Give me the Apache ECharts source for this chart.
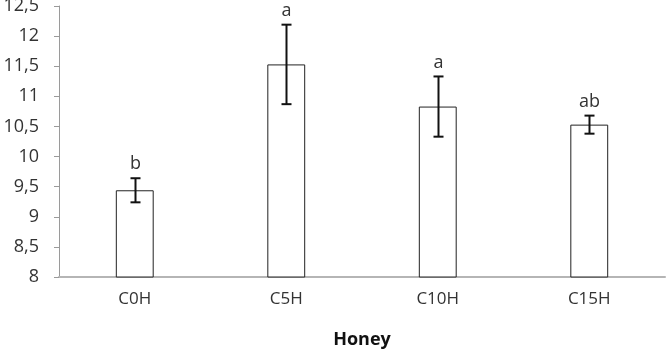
<!DOCTYPE html>
<html>
<head>
<meta charset="utf-8">
<script src="https://cdn.jsdelivr.net/npm/echarts@6/dist/echarts.min.js"></script>
<style>
  html, body { margin: 0; padding: 0; background: #fff; }
  #chart { width: 666px; height: 350px; }
</style>
</head>
<body>
<div id="chart"></div>
<script>
var categories = ['C0H', 'C5H', 'C10H', 'C15H'];
var means = [9.44, 11.53, 10.83, 10.53];
var errors = [0.2, 0.66, 0.5, 0.15];
var letters = ['b', 'a', 'a', 'ab'];

var errData = categories.map(function (c, i) {
    return [i, means[i] - errors[i], means[i] + errors[i], letters[i]];
});

var chart = echarts.init(document.getElementById('chart'));
var font = '"Open Sans", "Liberation Sans", sans-serif';

var option = {
    animation: false,
    grid: { left: 59, right: 1, top: 6, bottom: 73, outerBoundsMode: 'none' },
    xAxis: {
        type: 'category',
        data: categories,
        axisLine: { lineStyle: { color: '#b5b5b5', width: 2 } },
        axisTick: { show: false },
        axisLabel: { color: '#333', fontSize: 17, fontFamily: font, margin: 14 },
        name: 'Honey',
        nameLocation: 'middle',
        nameGap: 54,
        nameTextStyle: { color: '#111', fontSize: 18, fontWeight: 'bold', fontFamily: font }
    },
    yAxis: {
        type: 'value',
        min: 8,
        max: 12.5,
        interval: 0.5,
        splitLine: { show: false },
        axisLine: { show: true, lineStyle: { color: '#9a9a9a' } },
        axisTick: { show: true, length: 5, lineStyle: { color: '#9a9a9a' } },
        axisLabel: {
            color: '#333', fontSize: 18, fontFamily: font, margin: 20,
            formatter: function (v) { return String(v).replace('.', ','); }
        }
    },
    series: [
        {
            type: 'bar',
            data: means,
            barWidth: '25%',
            itemStyle: { color: '#fff', borderColor: '#222', borderWidth: 1 }
        },
        {
            type: 'custom',
            data: errData,
            z: 10,
            renderItem: function (params, api) {
                var lo = api.coord([api.value(0), api.value(1)]);
                var hi = api.coord([api.value(0), api.value(2)]);
                var x = Math.round(lo[0]) + 0.5;
                var cap = 5;
                var st = { stroke: '#111', lineWidth: 2 };
                return {
                    type: 'group',
                    children: [
                        { type: 'line', shape: { x1: x, y1: hi[1], x2: x, y2: lo[1] }, style: st },
                        { type: 'line', shape: { x1: x - cap, y1: hi[1], x2: x + cap, y2: hi[1] }, style: st },
                        { type: 'line', shape: { x1: x - cap, y1: lo[1], x2: x + cap, y2: lo[1] }, style: st },
                        {
                            type: 'text',
                            style: {
                                text: api.value(3),
                                x: x, y: hi[1] - 5,
                                align: 'center', verticalAlign: 'bottom',
                                fill: '#333', fontSize: 18, fontFamily: font
                            }
                        }
                    ]
                };
            }
        }
    ]
};
chart.setOption(option);
</script>
</body>
</html>
